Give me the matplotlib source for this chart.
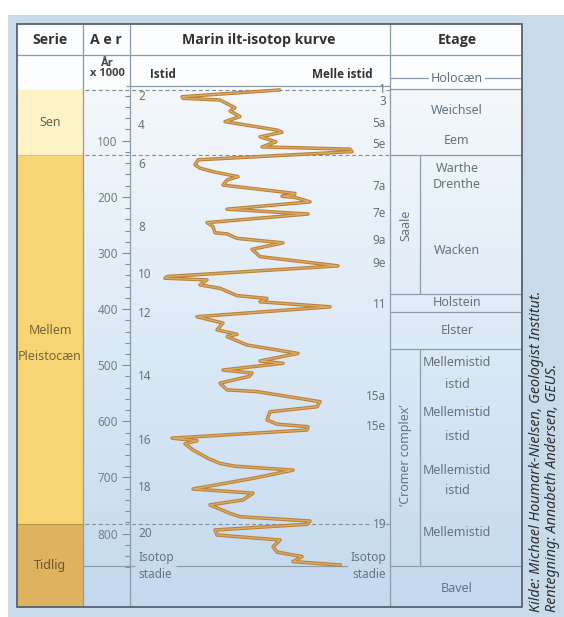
import numpy as np
import matplotlib
matplotlib.use("Agg")
import matplotlib.pyplot as plt
from matplotlib.patches import Rectangle
from matplotlib import patheffects as pe
from matplotlib.colors import LinearSegmentedColormap
from matplotlib.ticker import FixedLocator, NullLocator

plt.rcParams['font.family'] = ['Noto Sans', 'DejaVu Sans']
BOLD_FAMILY = ['Open Sans', 'Lato', 'DejaVu Sans']

# Marine oxygen-isotope curve: age (ka) and position between glacial (0) and interglacial (26)
ages = [9.6, 21.6, 24.5, 27.4, 35, 41, 47, 57, 66, 81, 85, 93, 102, 111, 115, 119.5,
        134, 143, 149, 156, 164, 170, 179, 194, 196, 199, 201, 209, 222, 230.6,
        246, 253, 264, 266, 274, 282, 293.5, 306.6, 323, 342, 345, 348, 357, 363,
        376, 381, 387, 396, 413.6, 425, 437, 445, 449, 464, 479, 492.5, 496.6,
        508.6, 514, 520, 532, 544, 547, 565, 574, 583, 597.6, 605, 609.6, 615.5,
        630, 634.5, 640, 651, 666, 675, 680, 687, 701.6, 720.6, 728, 740, 749,
        764, 770, 777.6, 783.5, 793.6, 802.6, 811.5, 823.4, 833, 841, 850, 856]
isotope = [14.9, 5.2, 5.3, 9.0, 9.8, 10.5, 10.0, 11.0, 9.5, 14.7, 15.2, 13.0, 14.6, 13.2, 22.0, 22.2,
           6.8, 6.5, 7.0, 8.5, 10.8, 9.7, 9.3, 16.5, 16.4, 15.2, 16.5, 18.0, 9.7, 17.8,
           7.7, 8.3, 8.5, 9.7, 10.7, 15.3, 12.2, 13.0, 20.8, 3.7, 3.5, 7.7, 7.0, 9.0,
           10.7, 13.7, 13.0, 20.0, 6.7, 9.3, 8.7, 10.7, 9.7, 11.7, 16.8, 13.0, 15.3,
           9.3, 12.2, 11.9, 9.0, 9.7, 12.7, 19.0, 18.7, 14.0, 13.7, 14.7, 17.8, 17.7,
           4.2, 6.7, 5.5, 6.3, 7.8, 9.0, 10.5, 16.3, 12.3, 6.3, 12.3, 11.3, 8.0,
           10.0, 11.0, 18.0, 17.7, 8.5, 8.7, 15.0, 14.3, 14.7, 17.2, 16.3, 21.0]

# Isotope stage labels
glacial_stages = ['2', '4', '6', '8', '10', '12', '14', '16', '18', '20']
glacial_stage_ages = [21.5, 72, 143, 255.5, 339, 408.7, 521, 634.5, 717.6, 799.6]
interglacial_stages = ['1', '3', '5a', '5e', '7a', '7e', '9a', '9e', '11', '15a', '15e', '19']
interglacial_stage_ages = [9.6, 30.5, 69, 107.6, 182, 229, 278, 318.5, 391, 556, 609.6, 784.7]

age_major_ticks = [100, 200, 300, 400, 500, 600, 700, 800]
age_minor_ticks = [a for a in range(20, 861, 20) if a % 100 != 0]

# Table text
headers = ['Serie', 'A e r', 'Marin ilt-isotop kurve', 'Etage']
serie_names = ['Sen', 'Mellem', 'Pleistocæn', 'Tidlig']
etage_names = ['Holocæn', 'Weichsel', 'Eem', 'Warthe', 'Drenthe', 'Wacken', 'Holstein',
               'Elster', 'Mellemistid', 'istid', 'Mellemistid', 'istid', 'Mellemistid',
               'istid', 'Mellemistid', 'Bavel']

# ---- page layout in pixels ----
W, H = 564, 617
fig = plt.figure(figsize=(W / 100, H / 100), dpi=100)
fig.patch.set_facecolor('white')
bg = fig.add_axes([0, 0, 1, 1])
bg.axis('off')

LINE = '#8c9cab'
TXT = '#66737f'
X0, X1, X2, X3, X4 = 17, 83, 130, 390, 522
Y0, YH, YB = 24, 55, 607
AGE0_PX, PX_PER_KA = 84.6, 0.5612

# blue page panel
bg.add_patch(Rectangle((8, 15), W - 8, H - 15, facecolor='#c9daea', edgecolor='none', zorder=0))
# header rows
bg.add_patch(Rectangle((X0, Y0), X4 - X0, 89 - Y0, facecolor='#fcfdfe', edgecolor='none', zorder=1))
# body gradient
grad = LinearSegmentedColormap.from_list('body', ['#f4f8fc', '#dce9f6', '#c3d9ee'])
bg.imshow(np.linspace(0, 1, 256).reshape(-1, 1), cmap=grad, aspect='auto',
          extent=(X0, X4, YB, 89), origin='upper', zorder=1)
bg.set_xlim(0, W)
bg.set_ylim(H, 0)

# serie fills
bg.add_patch(Rectangle((X0, 90), X1 - X0, 155 - 90, facecolor='#fdf3c7', edgecolor='none', zorder=2))
bg.add_patch(Rectangle((X0, 155), X1 - X0, 524 - 155, facecolor='#f8d574', edgecolor='none', zorder=2))
bg.add_patch(Rectangle((X0, 524), X1 - X0, YB - 524, facecolor='#dfb25f', edgecolor='none', zorder=2))
bg.plot([X0, X1], [155, 155], color='#d9c27a', lw=0.8, zorder=3)
bg.plot([X0, X1], [524, 524], color='#b99243', lw=0.8, zorder=3)


def hline(y, xa, xb, **kw):
    kw.setdefault('color', LINE)
    kw.setdefault('lw', 0.9)
    bg.plot([xa, xb], [y, y], zorder=4, solid_capstyle='butt', **kw)


def vline(x, ya, yb, **kw):
    kw.setdefault('color', LINE)
    kw.setdefault('lw', 0.9)
    bg.plot([x, x], [ya, yb], zorder=4, solid_capstyle='butt', **kw)


# column separators
for x in (X1, X2, X3):
    vline(x, Y0, YB)
hline(YH, X0, X4)
hline(85.5, 126, X3)
hline(89, X3, X4)
# dashed boundaries
dash = dict(ls=(0, (3.5, 2.5)), color='#7e8e9d', lw=0.8)
hline(90, X1 + 2, 378, **dash)
hline(155, X1 + 2, X3, **dash)
hline(524, X1 + 2, 372, **dash)
hline(90, 386, X3)
hline(524, 385, X3)
# isotop stadie line
hline(566, X1, 135)
hline(566, 176, 348)
hline(566, X3, X4)

# etage structure
hline(78, X3, X4)
for y in (155, 294, 312, 349):
    hline(y, X3, X4)
vline(420, 155, 294)
vline(420, 349, 566)

# outer border
bg.add_patch(Rectangle((X0, Y0), X4 - X0, YB - Y0, facecolor='none',
                       edgecolor='#55626e', lw=1.3, zorder=6))

# headers
hx = [50, 106, 259, 457]
for t, x in zip(headers, hx):
    bg.text(x, 40, t, ha='center', va='center', fontsize=10.2, fontweight='bold',
            family=BOLD_FAMILY, color='#333333', zorder=7)
bg.text(107, 63, 'År', ha='center', va='center', fontsize=8, fontweight='bold',
        family=BOLD_FAMILY, color='#444444', zorder=7)
bg.text(107, 74, 'x 1000', ha='center', va='center', fontsize=8, fontweight='bold',
        family=BOLD_FAMILY, color='#444444', zorder=7)
bg.text(150, 75, 'Istid', ha='left', va='center', fontsize=8.5, fontweight='bold',
        family=BOLD_FAMILY, color='#333333', zorder=7)
bg.text(373, 75, 'Melle istid', ha='right', va='center', fontsize=8.5, fontweight='bold',
        family=BOLD_FAMILY, color='#333333', zorder=7)

# serie labels
serie_pos = [(50, 123), (50, 330), (50, 357), (50, 566)]
serie_col = ['#6a6048', '#76643a', '#76643a', '#6b5430']
for t, (x, y), c in zip(serie_names, serie_pos, serie_col):
    bg.text(x, y, t, ha='center', va='center', fontsize=9, color=c, zorder=7)

# etage labels
etage_y = [78, 111, 141, 168, 184, 251, 303, 330, 362, 384, 413, 437, 470, 491, 532, 588]
for t, y in zip(etage_names, etage_y):
    kw = {}
    if t == 'Holocæn':
        kw['bbox'] = dict(boxstyle='square,pad=0.15', facecolor='#fcfdfe', edgecolor='none')
    bg.text(457, y, t, ha='center', va='center', fontsize=9, color=TXT, zorder=7, **kw)
bg.text(406, 225, 'Saale', ha='center', va='center', rotation=90, fontsize=9, color=TXT, zorder=7)
bg.text(406, 455, '‘Cromer complex’', ha='center', va='center', rotation=90, fontsize=9,
        color=TXT, zorder=7)

# isotop stadie captions
for y, t in ((558, 'Isotop'), (574, 'stadie')):
    bg.text(138, y, t, ha='left', va='center', fontsize=8.5, color=TXT, zorder=7)
    bg.text(386, y, t, ha='right', va='center', fontsize=8.5, color=TXT, zorder=7)

# credits
bg.text(537, 612, 'Kilde: Michael Houmark-Nielsen, Geologist Institut.', rotation=90,
        ha='center', va='bottom', fontsize=10.3, style='italic', color='#2e2e2e', zorder=7)
bg.text(552, 612, 'Rentegning: Annabeth Andersen, GEUS.', rotation=90,
        ha='center', va='bottom', fontsize=10.3, style='italic', color='#2e2e2e', zorder=7)

# ---- isotope curve axes (age axis, ka) ----
ax = fig.add_axes([X2 / W, 1 - YB / H, (X3 - X2) / W, (YB - AGE0_PX) / H])
ax.set_facecolor('none')
ax.set_xlim(0, 26)
ax.set_ylim((YB - AGE0_PX) / PX_PER_KA, 0)
for s in ax.spines.values():
    s.set_visible(False)
ax.xaxis.set_major_locator(NullLocator())
ax.yaxis.set_major_locator(FixedLocator(age_major_ticks))
ax.yaxis.set_minor_locator(FixedLocator(age_minor_ticks))
ax.tick_params(axis='y', which='major', direction='out', length=5.8, width=0.8,
               color='#7e8e9d', labelcolor='#747f8a', labelsize=8.5, pad=3)
ax.tick_params(axis='y', which='minor', direction='out', length=3.6, width=0.8, color='#7e8e9d')
ax.set_zorder(8)

ax.plot(isotope, ages, color='#dcaa60', lw=1.0, solid_joinstyle='round',
        path_effects=[pe.Stroke(linewidth=2.5, foreground='#b8803a'), pe.Normal()])

for t, a in zip(glacial_stages, glacial_stage_ages):
    ax.text(0.031, a, t, transform=ax.get_yaxis_transform(), ha='left', va='center',
            fontsize=8.5, color=TXT)
for t, a in zip(interglacial_stages, interglacial_stage_ages):
    ax.text(0.985, a, t, transform=ax.get_yaxis_transform(), ha='right', va='center',
            fontsize=8.5, color=TXT)

fig.savefig('out.png', dpi=100)
